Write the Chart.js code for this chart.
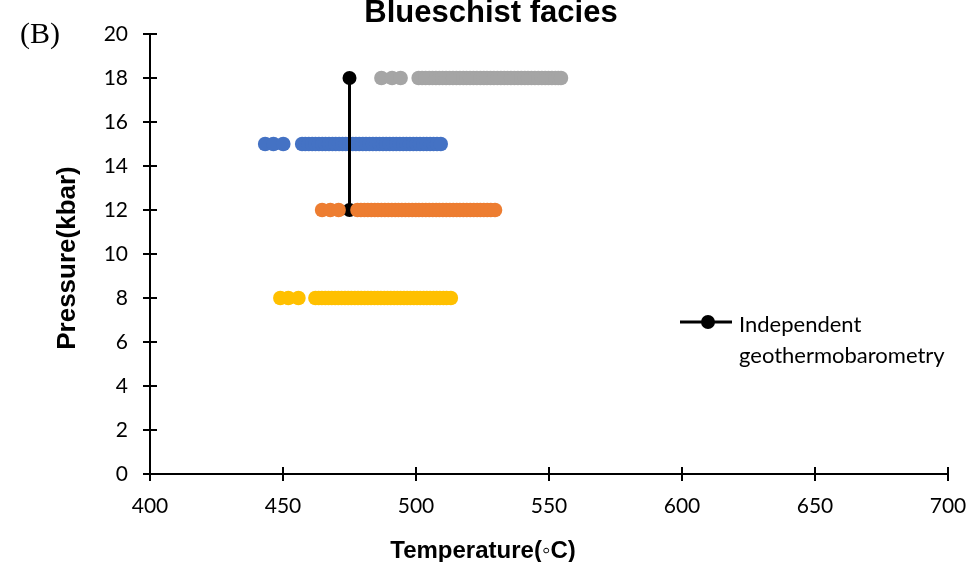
<!DOCTYPE html>
<html>
<head>
<meta charset="utf-8">
<style>
  html, body { margin: 0; padding: 0; background: #ffffff; }
  #wrap { width: 977px; height: 562px; position: relative; }
</style>
<script src="https://cdn.jsdelivr.net/npm/chart.js@4"></script>
</head>
<body>
<div id="wrap"><canvas id="chart" width="977" height="562"></canvas></div>
<script>
// Temperature estimates (°C) at each pressure level (kbar)
const pressureGray = 18;
const tempGray = [487, 491, 494.2,
  501, 502.3, 503.6, 505, 506.2, 507.5, 508.8, 510, 511.3, 512.6, 513.9, 515.2, 516.5,
  517.8, 519, 520.3, 521.6, 522.9, 524.2, 525.5, 526.7, 528, 529.3, 530.6, 531.9, 533.2,
  534.4, 535.7, 537, 538.3, 539.6, 540.9, 542.1, 543.4, 544.7, 546, 547.3, 548.6, 549.8,
  551.1, 552.4, 553.5, 554.5];

const pressureBlue = 15;
const tempBlue = [443.3, 446.4, 450.1,
  457.2, 458.4, 459.7, 461, 462.2, 463.5, 464.8, 466, 467.3, 468.6, 469.8, 471.1, 472.4,
  473.6, 474.9, 476.2, 477.4, 478.7, 480, 481.2, 482.5, 483.8, 485, 486.3, 487.6, 488.8,
  490.1, 491.4, 492.6, 493.9, 495.2, 496.4, 497.7, 499, 500.2, 501.5, 502.8, 504, 505.3,
  506.6, 507.9, 509.3];

const pressureOrange = 12;
const tempOrange = [464.7, 467.8, 470.9,
  478, 479.3, 480.6, 481.9, 483.2, 484.5, 485.7, 487, 488.3, 489.6, 490.9, 492.2, 493.4,
  494.7, 496, 497.3, 498.6, 499.9, 501.1, 502.4, 503.7, 505, 506.3, 507.6, 508.8, 510.1,
  511.4, 512.7, 514, 515.3, 516.5, 517.8, 519.1, 520.4, 521.7, 523, 524.2, 525.5, 526.8,
  528.1, 529.7];

const pressureYellow = 8;
const tempYellow = [449, 452, 455.8,
  462.2, 463.4, 464.6, 465.9, 467.1, 468.3, 469.6, 470.8, 472, 473.3, 474.5, 475.7, 477,
  478.2, 479.4, 480.7, 481.9, 483.1, 484.4, 485.6, 486.8, 488.1, 489.3, 490.5, 491.8,
  493, 494.2, 495.5, 496.7, 497.9, 499.2, 500.4, 501.6, 502.9, 504.1, 505.3, 506.6,
  507.8, 509, 510.3, 511.5, 513.1];

// Independent geothermobarometry: one temperature, pressure range
const indepTemp = [475, 475];
const indepPressure = [18, 12];

const xTicks = [400, 450, 500, 550, 600, 650, 700];
const yTicks = [0, 2, 4, 6, 8, 10, 12, 14, 16, 18, 20];

const chartTitle = 'Blueschist facies';
const xTitle = 'Temperature(\u25E6C)';
const yTitle = 'Pressure(kbar)';
const panelLabel = '(B)';
const legendLines = ['Independent', 'geothermobarometry'];

const toPoints = (temps, p) => temps.map(t => ({ x: t, y: p }));

const TICK_FONT = { family: 'Lato', size: 21 };

// Axis lines with tick marks that cross the axis, plus all free text
const decorations = {
  id: 'decorations',
  afterDraw(chart) {
    const ctx = chart.ctx;
    const xs = chart.scales.x, ys = chart.scales.y;
    ctx.save();
    ctx.strokeStyle = '#000';
    ctx.lineWidth = 2;
    ctx.beginPath();
    ctx.moveTo(xs.getPixelForValue(400) - 7, ys.getPixelForValue(0));
    ctx.lineTo(xs.getPixelForValue(700), ys.getPixelForValue(0));
    ctx.moveTo(xs.getPixelForValue(400), ys.getPixelForValue(0) + 7);
    ctx.lineTo(xs.getPixelForValue(400), ys.getPixelForValue(20));
    xTicks.forEach(v => {
      const px = xs.getPixelForValue(v), py = ys.getPixelForValue(0);
      ctx.moveTo(px, py - 7); ctx.lineTo(px, py + 7);
    });
    yTicks.forEach(v => {
      const px = xs.getPixelForValue(400), py = ys.getPixelForValue(v);
      ctx.moveTo(px - 7, py); ctx.lineTo(px + 7, py);
    });
    ctx.stroke();

    ctx.fillStyle = '#000';
    ctx.textBaseline = 'alphabetic';

    // chart title
    ctx.font = 'bold 31px "Liberation Sans", Arial, sans-serif';
    ctx.textAlign = 'center';
    ctx.fillText(chartTitle, 491, 22);

    // panel label
    ctx.font = '30px "Liberation Serif", "Times New Roman", serif';
    ctx.textAlign = 'left';
    ctx.fillText(panelLabel, 20, 43);

    // x-axis title
    ctx.font = 'bold 24px "Liberation Sans", Arial, sans-serif';
    ctx.textAlign = 'center';
    ctx.fillText(xTitle, 483, 558);

    // y-axis title
    ctx.save();
    ctx.translate(75, 258);
    ctx.rotate(-Math.PI / 2);
    ctx.font = 'bold 26px "Liberation Sans", Arial, sans-serif';
    ctx.textAlign = 'center';
    ctx.fillText(yTitle, 0, 0);
    ctx.restore();

    // legend entry
    ctx.strokeStyle = '#000';
    ctx.lineWidth = 3;
    ctx.beginPath();
    ctx.moveTo(680, 322); ctx.lineTo(732, 322);
    ctx.stroke();
    ctx.beginPath();
    ctx.arc(708, 322, 7, 0, Math.PI * 2);
    ctx.fill();
    ctx.font = '22px Lato, sans-serif';
    ctx.textAlign = 'left';
    ctx.fillText(legendLines[0], 739, 332);
    ctx.fillText(legendLines[1], 739, 363);
    ctx.restore();
  }
};

const dotSet = (label, temps, p, color, order) => ({
  label,
  data: toPoints(temps, p),
  backgroundColor: color,
  borderColor: color,
  borderWidth: 0,
  pointRadius: 7.3,
  pointHoverRadius: 7.3,
  showLine: false,
  order
});

new Chart(document.getElementById('chart'), {
  type: 'scatter',
  data: {
    datasets: [
      dotSet('18 kbar', tempGray, pressureGray, '#A5A5A5', 3),
      dotSet('15 kbar', tempBlue, pressureBlue, '#4472C4', 2),
      dotSet('12 kbar', tempOrange, pressureOrange, '#ED7D31', 0),
      dotSet('8 kbar', tempYellow, pressureYellow, '#FFC000', 4),
      {
        label: 'Independent geothermobarometry',
        data: indepTemp.map((t, i) => ({ x: t, y: indepPressure[i] })),
        showLine: true,
        borderColor: '#000',
        backgroundColor: '#000',
        borderWidth: 3,
        pointRadius: 7,
        pointBorderWidth: 0,
        order: 1
      }
    ]
  },
  options: {
    responsive: false,
    animation: false,
    layout: { padding: { left: 0, right: 29, top: 34, bottom: 0 } },
    plugins: { legend: { display: false }, tooltip: { enabled: false }, title: { display: false } },
    scales: {
      x: {
        type: 'linear', min: 400, max: 700,
        afterBuildTicks: s => { s.ticks = xTicks.map(v => ({ value: v })); },
        afterFit: s => { s.height = 88; s.paddingLeft = 0; s.paddingRight = 0; },
        grid: { display: false },
        border: { display: false },
        ticks: { color: '#000', font: TICK_FONT, padding: 12, maxRotation: 0 }
      },
      y: {
        type: 'linear', min: 0, max: 20,
        afterBuildTicks: s => { s.ticks = yTicks.map(v => ({ value: v })); },
        afterFit: s => { s.width = 150; s.paddingTop = 0; s.paddingBottom = 0; },
        grid: { display: false },
        border: { display: false },
        ticks: { color: '#000', font: TICK_FONT, padding: 14 }
      }
    }
  },
  plugins: [decorations]
});
</script>
</body>
</html>
